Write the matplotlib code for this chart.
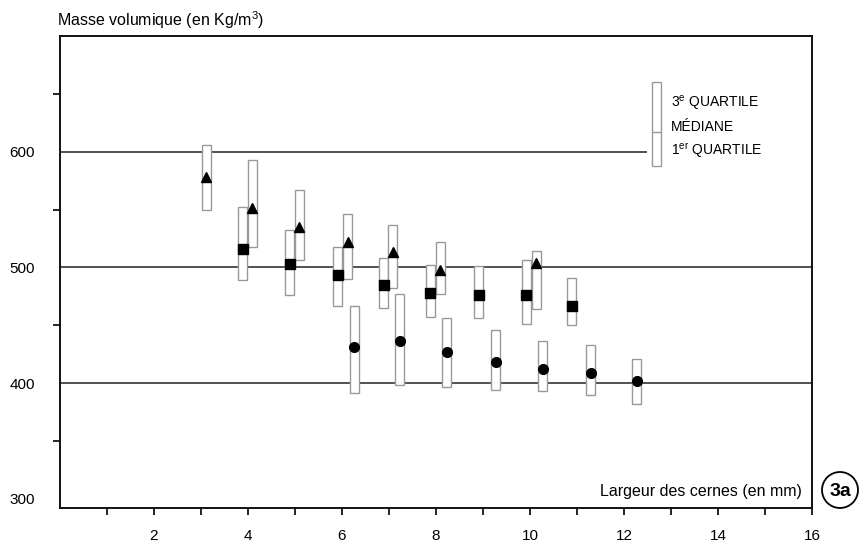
import matplotlib
matplotlib.use('Agg')
import matplotlib.pyplot as plt

plt.rcParams['font.family'] = ['Liberation Sans', 'DejaVu Sans']
plt.rcParams['mathtext.default'] = 'regular'

# triangles (upper series)
tri_x = [3.11, 4.09, 5.09, 6.12, 7.08, 8.09, 10.13]
tri_q1 = [550, 518, 506, 490, 482, 477, 464]
tri_med = [578, 551, 535, 522, 513, 498, 504]
tri_q3 = [606, 593, 567, 546, 537, 522, 514]

# squares (middle series)
sq_x = [3.89, 4.89, 5.91, 6.89, 7.88, 8.91, 9.92, 10.89]
sq_q1 = [489, 476, 467, 465, 457, 456, 451, 450]
sq_med = [516, 503, 493, 485, 478, 476, 476, 467]
sq_q3 = [552, 532, 518, 508, 502, 501, 506, 491]

# circles (lower series)
ci_x = [6.26, 7.23, 8.23, 9.27, 10.27, 11.29, 12.27]
ci_q1 = [391, 398, 397, 394, 393, 390, 382]
ci_med = [431, 436, 427, 418, 412, 409, 402]
ci_q3 = [467, 477, 456, 446, 436, 433, 421]

# legend box values
leg_x = 12.7
leg_q1, leg_med, leg_q3 = 588, 617, 660

box_w = 0.19
box_col = '#999999'

fig = plt.figure(figsize=(8.67, 5.46), dpi=100)
ax = fig.add_axes([60 / 867, 1 - 508 / 546, 752 / 867, 472 / 546])
ax.set_xlim(0, 16)
ax.set_ylim(292, 700)

# horizontal reference lines
ax.hlines(600, 0, 12.49, color='#222222', lw=1.1, zorder=1)
ax.hlines([500, 400], 0, 16, color='#222222', lw=1.1, zorder=1)

def draw_boxes(xs, q1, med, q3, marker, ms):
    hs = [b - a for a, b in zip(q1, q3)]
    ax.bar(xs, hs, bottom=q1, width=box_w, facecolor='white',
           edgecolor=box_col, linewidth=1.0, zorder=2)
    ax.plot(xs, med, linestyle='none', marker=marker, markersize=ms,
            color='black', zorder=3)

draw_boxes(sq_x, sq_q1, sq_med, sq_q3, 's', 7)
draw_boxes(tri_x, tri_q1, tri_med, tri_q3, '^', 7.5)
draw_boxes(ci_x, ci_q1, ci_med, ci_q3, 'o', 7)

# legend drawn by hand
ax.bar([leg_x], [leg_q3 - leg_q1], bottom=[leg_q1], width=box_w,
       facecolor='white', edgecolor=box_col, linewidth=1.0, zorder=2)
ax.hlines(leg_med, leg_x - box_w / 2, leg_x + box_w / 2, color=box_col, lw=1.0, zorder=3)
ax.text(13.0, 642, '3$^{e}$ QUARTILE', fontsize=10, va='center')
ax.text(13.0, 621, 'MÉDIANE', fontsize=10, va='center')
ax.text(13.0, 601, '1$^{er}$ QUARTILE', fontsize=10, va='center')

# axes styling
for s in ax.spines.values():
    s.set_linewidth(1.4)
    s.set_color('#111111')

ax.set_xticks(range(1, 17))
ax.set_xticklabels([str(i) if i % 2 == 0 else '' for i in range(1, 17)])
ax.tick_params(axis='x', direction='out', length=5, width=1.2, pad=10, labelsize=11)

ax.set_yticks([350, 450, 550, 650], minor=True)
ax.set_yticks([300, 400, 500, 600])
ax.set_yticklabels(['300', '400', '500', '600'])
ax.tick_params(axis='y', which='major', length=0, pad=18, labelsize=11)
ax.tick_params(axis='y', which='minor', direction='out', length=5, width=1.2)

ax.text(15.79, 306, 'Largeur des cernes (en mm)', fontsize=11.5, ha='right', va='center')
fig.text(57 / 867, 1 - 20 / 546, 'Masse volumique (en Kg/m$^{3}$)', fontsize=11.5,
         ha='left', va='center')

# figure tag
tag = plt.Circle((840, 546 - 490), 18, transform=None, fill=False, lw=1.3, color='black')
fig.patches.append(tag)
fig.text(840 / 867, 1 - 491 / 546, '3a', fontsize=14, fontweight='bold', ha='center', va='center')

fig.savefig('out.png', dpi=100)
